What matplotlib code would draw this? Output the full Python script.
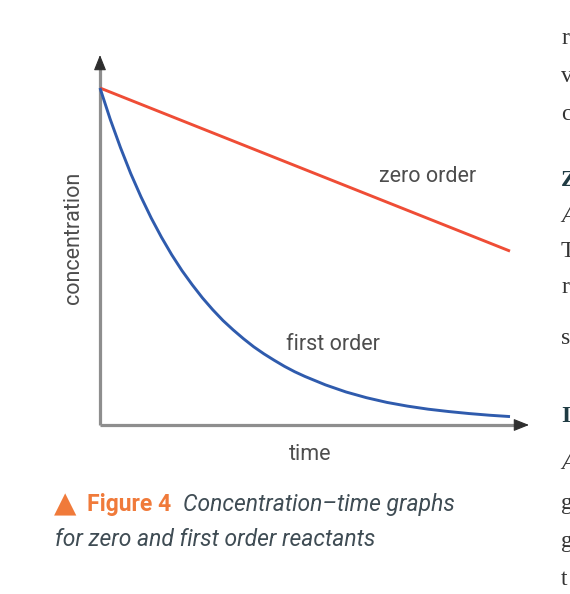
import matplotlib
matplotlib.use("Agg")
import matplotlib.pyplot as plt

# ---- data ----
time = [0.0, 0.25, 0.5, 0.75, 1.0, 1.25, 1.5, 1.75, 2.0, 2.25, 2.5, 2.75, 3.0,
        3.25, 3.5, 3.75, 4.0, 4.25, 4.5, 4.75, 5.0, 5.5, 6.0, 6.5, 7.0, 7.5,
        8.0, 8.5, 9.0, 9.5, 10.0]
first_order = [1.000, 0.907, 0.823, 0.746, 0.677, 0.614, 0.557, 0.505, 0.458, 0.416,
               0.377, 0.342, 0.310, 0.282, 0.256, 0.232, 0.211, 0.192, 0.174, 0.158,
               0.144, 0.119, 0.098, 0.081, 0.067, 0.056, 0.047, 0.040, 0.034, 0.029,
               0.025]
zero_time = [0.0, 10.0]
zero_order = [1.000, 0.516]

labels = {"zero": "zero order", "first": "first order", "x": "time", "y": "concentration"}
caption_fig = "Figure 4"
caption_l1 = "Concentration\u2013time graphs"
caption_l2 = "for zero and first order reactants"
edge_letters = ["r", "v", "c", "Z", "A", "T", "r", "s", "I", "A", "g", "g", "t"]
edge_baselines = [44, 82, 120, 186, 222, 257, 293, 344, 422, 469, 509, 547, 585]
edge_bold = [False, False, False, True, False, False, False, False, True, False, False, False, False]

W, H = 570, 594
fig = plt.figure(figsize=(W / 100, H / 100), dpi=100)
fig.patch.set_facecolor("white")

def fx(px):
    return px / W

def fy(py):
    return 1 - py / H

# axes: origin at pixel (100,425), y top at 55, x right at 529
ax = fig.add_axes([fx(100), fy(425), fx(529) - fx(100), fy(55) - fy(425)])
xmax = (529 - 100) / 41.0
ymax = (425 - 55) / 337.0
ax.set_xlim(0, xmax)
ax.set_ylim(0, ymax)
ax.axis("off")

axis_col = "#8e8e8e"
head_col = "#2e2e2e"
ax.plot([0, xmax - 0.25], [0, 0], color=axis_col, lw=2.3, solid_capstyle="butt", clip_on=False, zorder=2)
ax.plot([0, 0], [0, ymax - 0.03], color=axis_col, lw=2.3, solid_capstyle="butt", clip_on=False, zorder=2)
ax.annotate("", xy=(xmax, 0), xytext=(xmax - 0.3, 0),
            arrowprops=dict(arrowstyle="-|>,head_length=0.95,head_width=0.38",
                            fc=head_col, ec=head_col, lw=0.8, shrinkA=0, shrinkB=0),
            annotation_clip=False, zorder=3)
ax.annotate("", xy=(0, ymax), xytext=(0, ymax - 0.04),
            arrowprops=dict(arrowstyle="-|>,head_length=0.95,head_width=0.38",
                            fc=head_col, ec=head_col, lw=0.8, shrinkA=0, shrinkB=0),
            annotation_clip=False, zorder=3)

ax.plot(zero_time, zero_order, color="#ef4d36", lw=2.1, clip_on=False, zorder=4,
        solid_capstyle="butt")
ax.plot(time, first_order, color="#2f5bad", lw=2.1, clip_on=False, zorder=4,
        solid_capstyle="butt", solid_joinstyle="round")

txt_col = "#4d4d4d"
font = "Roboto"
fig.text(fx(428), fy(177), labels["zero"], ha="center", va="center", fontsize=15.5,
         color=txt_col, family=font)
fig.text(fx(333), fy(344), labels["first"], ha="center", va="center", fontsize=15.5,
         color=txt_col, family=font)
fig.text(fx(310), fy(455), labels["x"], ha="center", va="center", fontsize=15.5,
         color=txt_col, family=font)
fig.text(fx(74), fy(238), labels["y"], ha="center", va="center", fontsize=15.5,
         color=txt_col, family=font, rotation=90)

# caption
orange = "#f07a3a"
cap_col = "#3f4c54"
fig.text(fx(54), fy(512), "\u25B2", ha="left", va="baseline", fontsize=21,
         color=orange, family="DejaVu Sans")
fig.text(fx(87), fy(511), caption_fig, ha="left", va="baseline", fontsize=16.5,
         color=orange, family=font, weight="bold")
fig.text(fx(183), fy(511), caption_l1, ha="left", va="baseline", fontsize=16.5,
         color=cap_col, family=font, style="italic")
fig.text(fx(55), fy(546), caption_l2, ha="left", va="baseline", fontsize=16.5,
         color=cap_col, family=font, style="italic")

# clipped letters of neighbouring page text at right edge
for ch, yb, b in zip(edge_letters, edge_baselines, edge_bold):
    fig.text(fx(561), fy(yb), ch, ha="left", va="baseline", fontsize=17,
             color="#1f3b43" if b else "#333333", family="Liberation Serif",
             weight="bold" if b else "normal",
             style="italic" if ch == "A" else "normal")

fig.savefig("out.png", dpi=100, facecolor="white")
